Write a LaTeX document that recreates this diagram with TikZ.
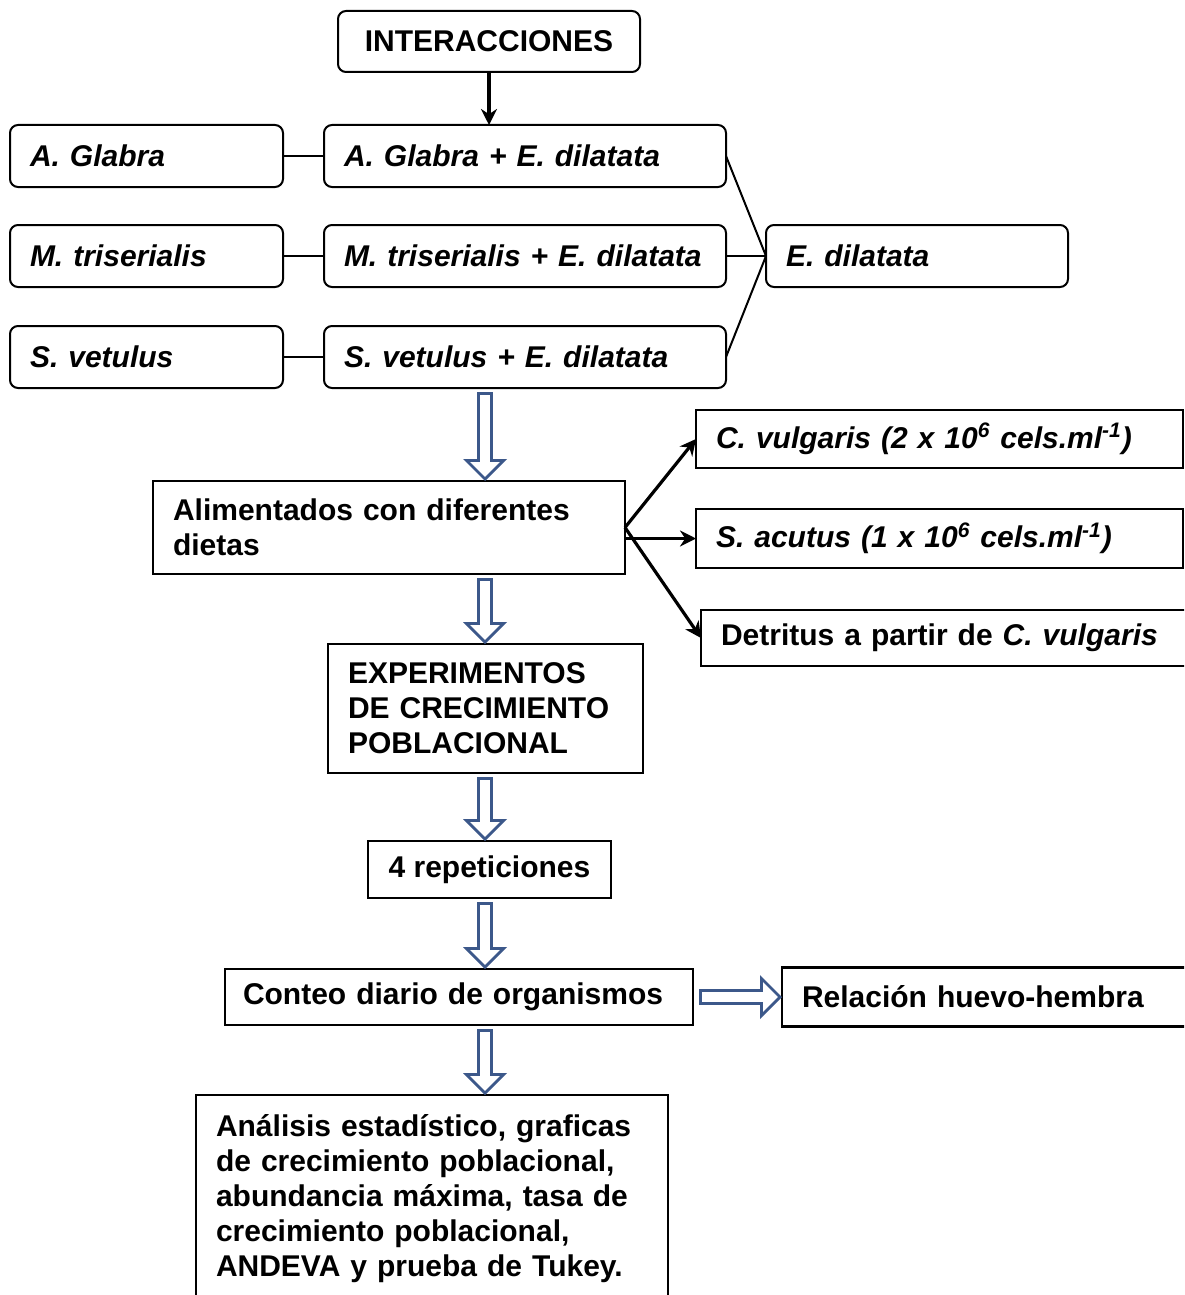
\documentclass[tikz,border=0pt]{standalone}
\usepackage{fontspec}
\setmainfont{Liberation Sans}
\usetikzlibrary{positioning}
\usetikzlibrary{arrows.meta}
\definecolor{arrowblue}{RGB}{60,88,138}
\tikzset{x=0.5pt, y=-0.5pt, >={Stealth[length=8pt,width=8pt]}, node distance=1cm, font=\bfseries\fontsize{15}{17.5}\selectfont}
\tikzset{rbox/.style={draw, rectangle, rounded corners=4pt, line width=1pt, minimum height=31pt, inner xsep=10pt, inner ysep=0pt, outer sep=0pt, align=left, font=\bfseries\itshape\fontsize{15}{17.5}\selectfont}}
\tikzset{sbox/.style={draw, rectangle, line width=1.3pt, inner xsep=10pt, outer sep=0pt, align=left}}
\tikzset{link/.style={line width=1pt}}
\tikzset{feed/.style={->, line width=1.6pt}}
\tikzset{hollow/.style={draw=arrowblue, line width=8pt, -{Triangle[length=11pt,width=22pt,line width=0pt]}, postaction={draw=white, line width=5pt, -{Triangle[length=7.4pt,width=14.8pt,line width=0pt]}, shorten >=2.1pt, shorten <=1.5pt}}}

\begin{document}
\begin{tikzpicture}
		\useasboundingbox (0,0) rectangle (1184,1295);
		\clip (0,0) rectangle (1184,1295);
		\fill[white] (0,0) rectangle (1184,1295);

		\node [rbox, text width=131pt, align=center, minimum height=30.5pt] (inter) at (489,41.5) {\upshape INTERACCIONES};
		\node [rbox, text width=116.5pt, anchor=west] (glabra) at (10,156) {A. Glabra};
		\node [rbox, text width=181pt, right=20.5pt of glabra] (glabraE) {A. Glabra + E. dilatata};
		\node [rbox, text width=116.5pt, below=19pt of glabra] (trise) {M. triserialis};
		\node [rbox, text width=181pt, right=20.5pt of trise] (triseE) {M. triserialis + E. dilatata};
		\node [rbox, text width=116.5pt, below=19.5pt of trise] (vetul) {S. vetulus};
		\node [rbox, text width=181pt, right=20.5pt of vetul] (vetulE) {S. vetulus + E. dilatata};
		\node [rbox, text width=131pt, right=20pt of triseE] (edil) {E. dilatata};

		\node [sbox, text width=216pt, minimum height=46.5pt, anchor=north west] (alim) at (153,481) {Alimentados con diferentes\\dietas};
		\node [sbox, text width=223.5pt, minimum height=29pt, anchor=north west] (cvul) at (696,410) {\itshape C. vulgaris (2 x 10\textsuperscript{6} cels.ml\textsuperscript{-1})};
		\node [sbox, text width=223.5pt, minimum height=29.5pt, below=20.5pt of cvul] (sacu) {\itshape S. acutus (1 x 10\textsuperscript{6} cels.ml\textsuperscript{-1})};
		\node [sbox, text width=240pt, minimum height=28pt, anchor=north west] (detr) at (701,610) {Detritus a partir de \textit{C. vulgaris}};

		\node [sbox, text width=137.5pt, minimum height=64.5pt, anchor=north west] (expe) at (328,644) {EXPERIMENTOS\\DE CRECIMIENTO\\POBLACIONAL};
		\node [sbox, minimum width=121.5pt, minimum height=28.5pt, align=center] (rep) at (489.5,869.5) {4 repeticiones};
		\node [sbox, text width=216pt, minimum height=28pt, anchor=north west, inner xsep=9pt] (cont) at (225,969) {Conteo diario de organismos};
		\node [sbox, text width=220pt, minimum height=29.5pt, right=44.5pt of cont] (rel) {Relación huevo-hembra};
		\node [sbox, text width=216pt, inner ysep=9.5pt, anchor=north west] (anal) at (196,1095) {Análisis estadístico, graficas\\de crecimiento poblacional,\\abundancia máxima, tasa de\\crecimiento poblacional,\\ANDEVA y prueba de Tukey.\\\rule{0pt}{20pt}};
		\coordinate (axis) at (485,0);

		\draw [feed] (inter) -- (inter |- glabraE.north);
		\draw [link] (glabra) -- (glabraE);
		\draw [link] (trise) -- (triseE);
		\draw [link] (vetul) -- (vetulE);
		\draw [link] (glabraE.east) -- (edil.west);
		\draw [link] (triseE.east) -- (edil.west);
		\draw [link] (vetulE.east) -- (edil.west);

		\draw [hollow] ([yshift=-2pt]vetulE.south -| axis) -- (alim.north -| axis);
		\draw [feed] (alim.east) -- (cvul.west);
		\draw [feed] (alim.east |- sacu.west) -- (sacu.west);
		\draw [feed] (alim.east) -- (detr.west);
		\draw [hollow] ([yshift=-2pt]alim.south -| axis) -- (expe.north -| axis);
		\draw [hollow] ([yshift=-2pt]expe.south -| axis) -- (rep.north -| axis);
		\draw [hollow] ([yshift=-2pt]rep.south -| axis) -- (cont.north -| axis);
		\draw [hollow] ([xshift=3pt]cont.east) -- (rel.west);
		\draw [hollow] ([yshift=-2pt]cont.south -| axis) -- (anal.north -| axis);
	\end{tikzpicture}
\end{document}
